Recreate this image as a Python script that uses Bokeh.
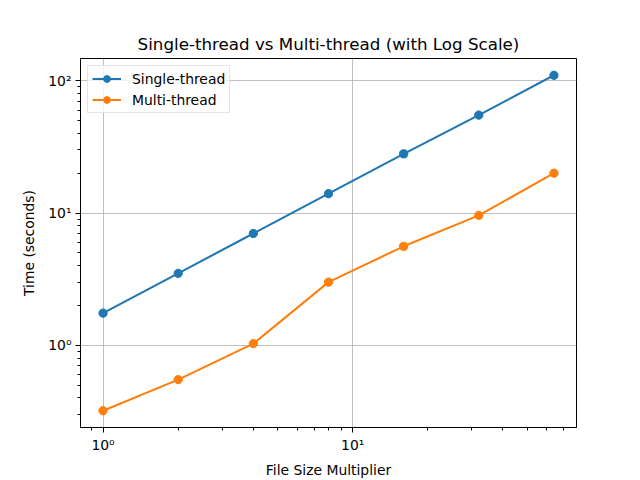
import math
from bokeh.plotting import figure
from bokeh.models import Range1d, FixedTicker, ColumnDataSource
from bokeh.embed import file_html
from bokeh.resources import INLINE

# ---- data ----
file_size = [1, 2, 4, 8, 16, 32, 64]
single_thread = [1.75, 3.5, 7.0, 14.0, 28.0, 55.0, 110.0]
multi_thread = [0.32, 0.55, 1.03, 3.0, 5.6, 9.6, 20.0]

x_ticks = [1, 10]
x_tick_labels = ["10\u2070", "10\u00b9"]
y_ticks = [1, 10, 100]
y_tick_labels = ["10\u2070", "10\u00b9", "10\u00b2"]

title_text = "Single-thread vs Multi-thread (with Log Scale)"
x_label = "File Size Multiplier"
y_label = "Time (seconds)"

BLUE = "#1f77b4"
ORANGE = "#ff7f0e"
FONT = "DejaVu Sans"


def log_range(vals, frac=0.05):
    lo = math.log10(min(vals))
    hi = math.log10(max(vals))
    pad = (hi - lo) * frac
    return 10 ** (lo - pad), 10 ** (hi + pad)


x0, x1 = log_range(file_size)
y0, y1 = log_range(single_thread + multi_thread)


def minor_list(lo, hi):
    out = []
    for e in range(-2, 4):
        for m in range(2, 10):
            v = m * 10 ** e
            if lo <= v <= hi:
                out.append(v)
    return out


p = figure(
    x_axis_type="log", y_axis_type="log",
    x_range=Range1d(x0, x1), y_range=Range1d(y0, y1),
    frame_width=496, frame_height=369,
    min_border_left=80, min_border_top=58, min_border_right=64, min_border_bottom=53,
    output_backend="svg", toolbar_location=None,
    title=title_text,
    background_fill_color="white", border_fill_color="white",
)

p.title.align = "center"
p.title.text_font = FONT
p.title.text_font_size = "16.7px"
p.title.text_font_style = "normal"
p.title.text_color = "black"

p.outline_line_color = "black"
p.outline_line_width = 1
p.outline_line_alpha = 1

p.xaxis.ticker = FixedTicker(ticks=x_ticks, minor_ticks=minor_list(x0, x1))
p.yaxis.ticker = FixedTicker(ticks=y_ticks, minor_ticks=minor_list(y0, y1))
p.xaxis.major_label_overrides = {t: l for t, l in zip(x_ticks, x_tick_labels)}
p.yaxis.major_label_overrides = {t: l for t, l in zip(y_ticks, y_tick_labels)}

for ax in (p.xaxis[0], p.yaxis[0]):
    ax.axis_line_color = "black"
    ax.major_tick_line_color = "black"
    ax.minor_tick_line_color = "black"
    ax.major_tick_in = 0
    ax.major_tick_out = 5
    ax.minor_tick_in = 0
    ax.minor_tick_out = 3
    ax.major_label_text_font = FONT
    ax.major_label_text_font_size = "13.9px"
    ax.major_label_text_color = "black"
    ax.axis_label_text_font = FONT
    ax.axis_label_text_font_size = "13.9px"
    ax.axis_label_text_font_style = "normal"
    ax.axis_label_text_color = "black"
    ax.major_label_standoff = 4

p.xaxis.axis_label = x_label
p.yaxis.axis_label = y_label
p.xaxis.axis_label_standoff = 6
p.yaxis.axis_label_standoff = 8

p.grid.grid_line_color = "#b0b0b0"
p.grid.grid_line_width = 0.8

src = ColumnDataSource(dict(x=file_size, s=single_thread, m=multi_thread))

p.line("x", "s", source=src, line_color=BLUE, line_width=2.08, legend_label="Single-thread")
p.scatter("x", "s", source=src, size=8.3, fill_color=BLUE, line_color=BLUE, legend_label="Single-thread")
p.line("x", "m", source=src, line_color=ORANGE, line_width=2.08, legend_label="Multi-thread")
p.scatter("x", "m", source=src, size=8.3, fill_color=ORANGE, line_color=ORANGE, legend_label="Multi-thread")

lg = p.legend[0]
lg.location = "top_left"
lg.margin = 7
lg.padding = 4
lg.spacing = 4
lg.glyph_width = 29
lg.glyph_height = 17
lg.label_height = 17
lg.label_standoff = 11
lg.label_width = 90
lg.label_text_font = FONT
lg.label_text_font_size = "13.9px"
lg.label_text_color = "black"
lg.border_line_color = "#cccccc"
lg.border_line_width = 1
lg.background_fill_alpha = 0.8

open("out.html", "w").write(file_html(p, INLINE))
